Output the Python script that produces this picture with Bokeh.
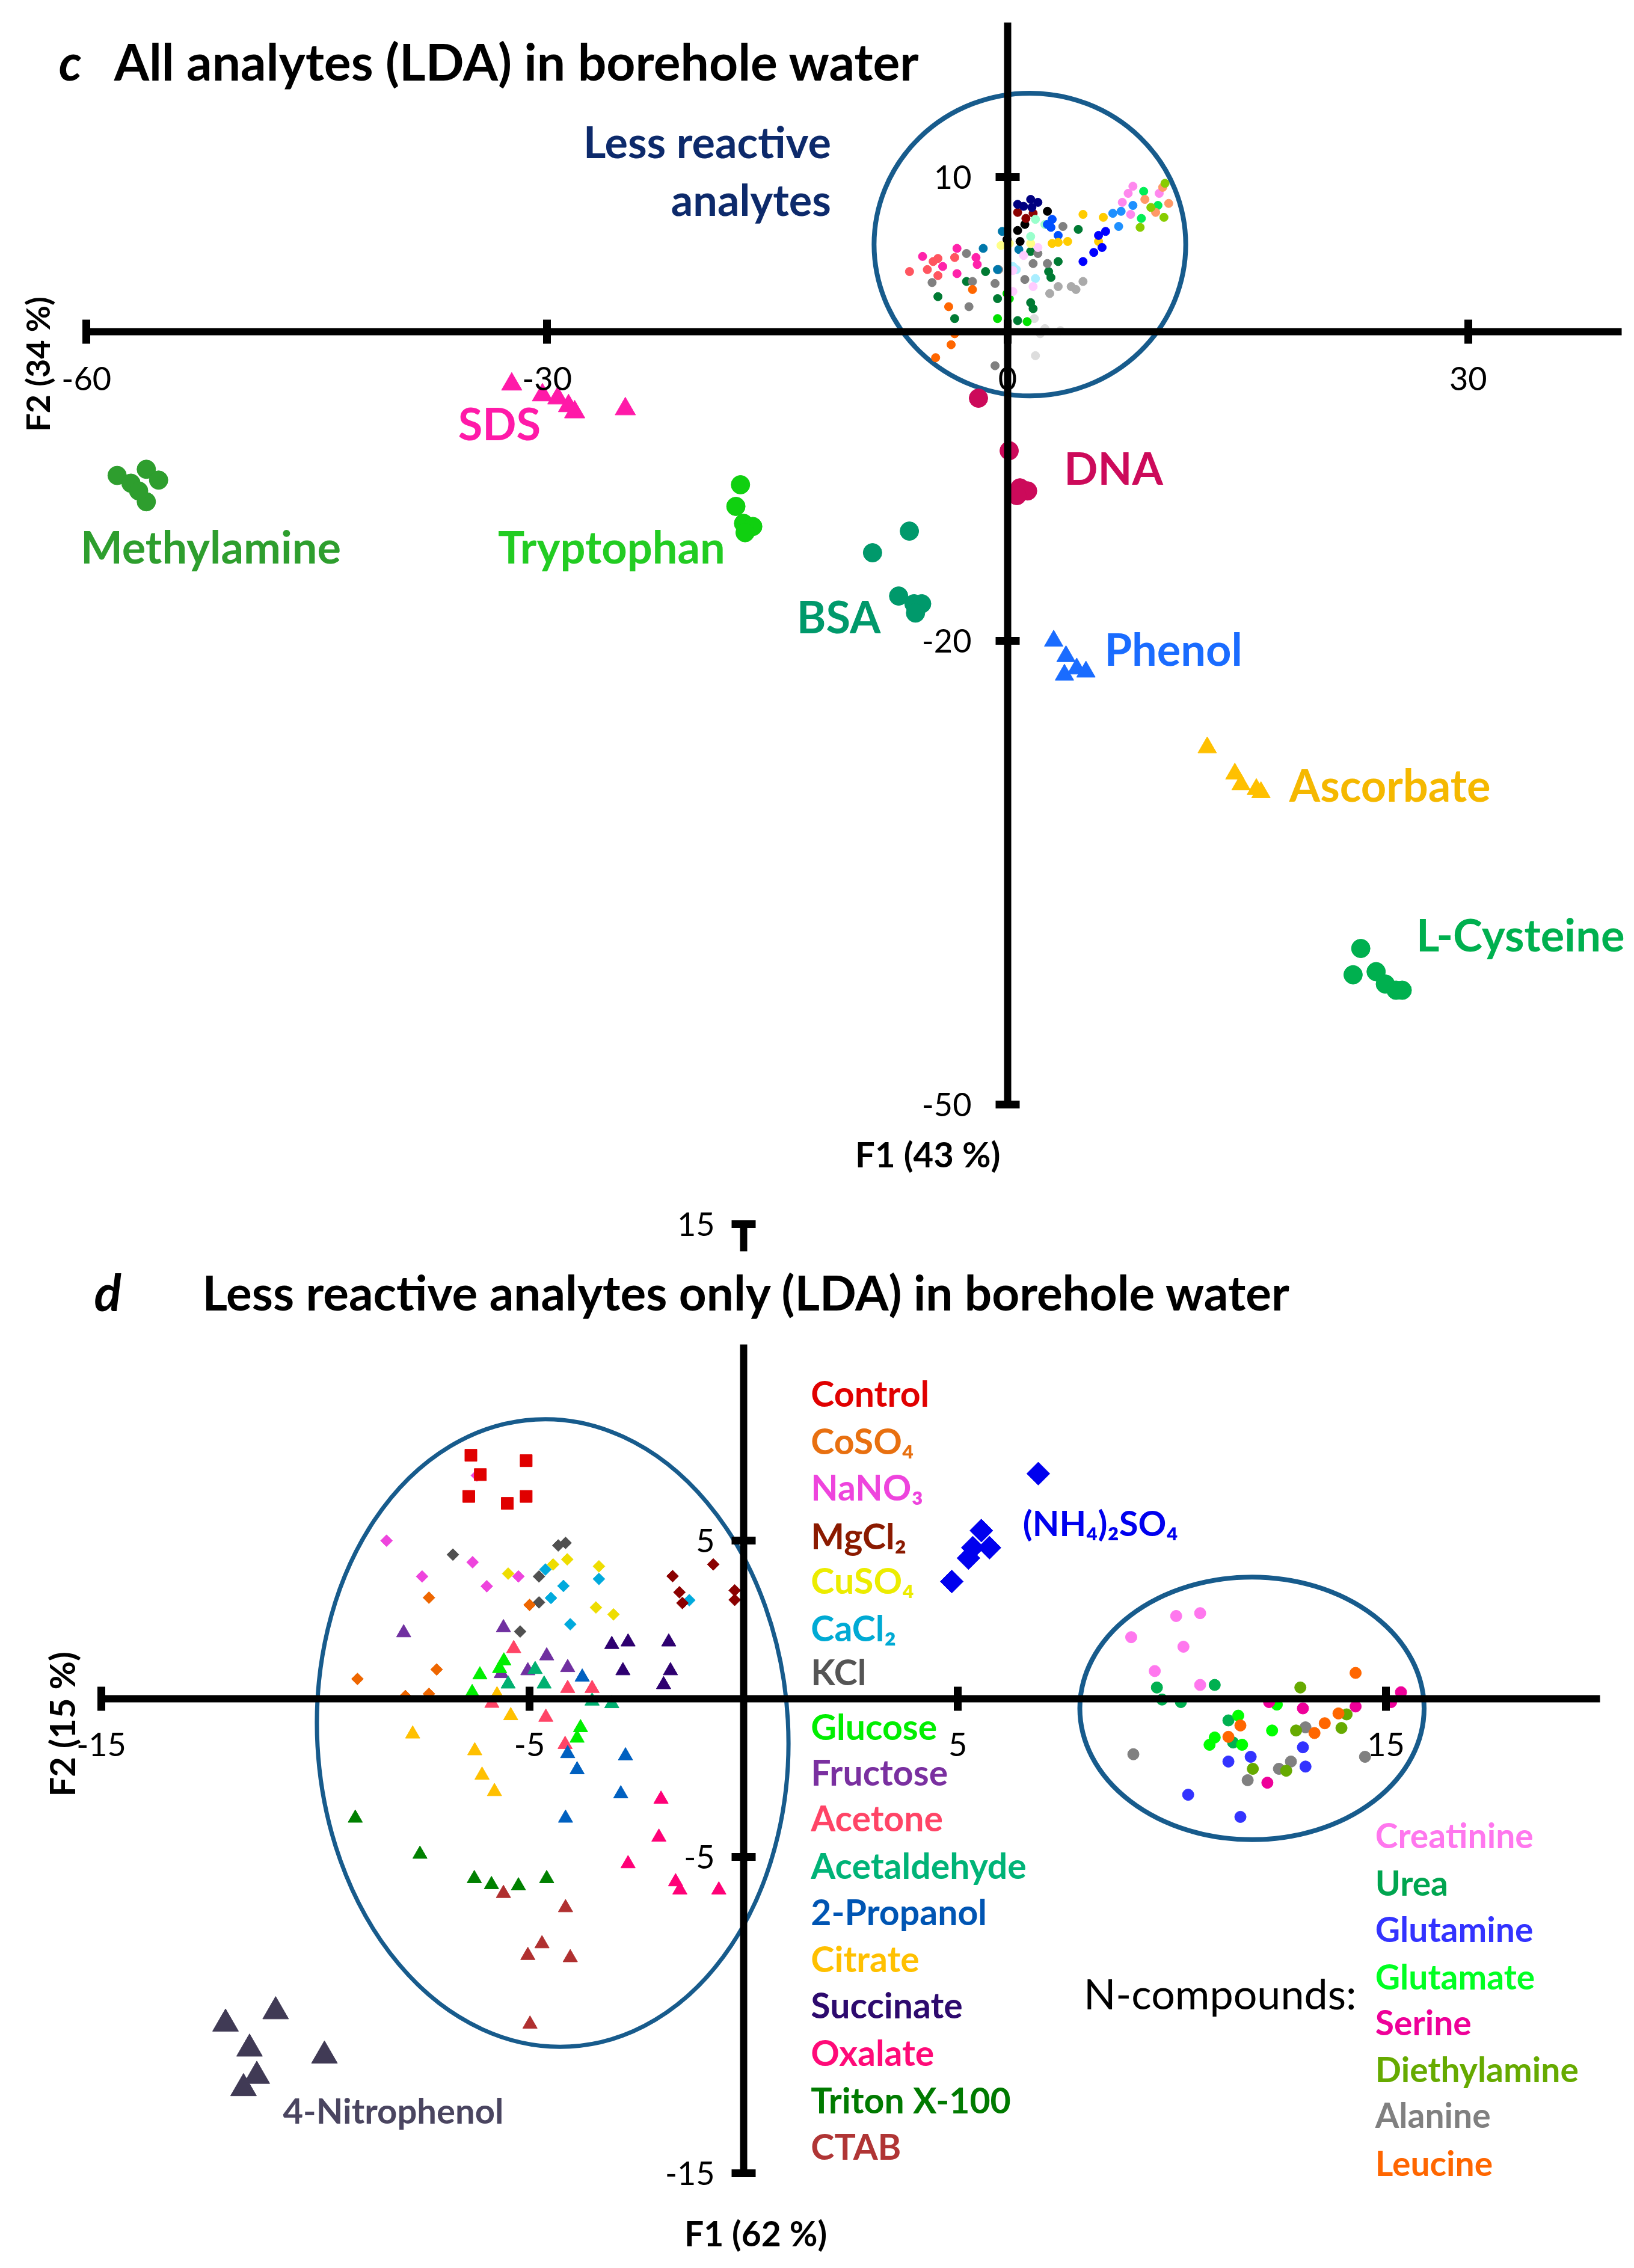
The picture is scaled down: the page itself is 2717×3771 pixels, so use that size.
import math
from bokeh.plotting import figure
from bokeh.layouts import column
from bokeh.models import Range1d, LinearAxis, FixedTicker, ColumnDataSource, CustomJSTickFormatter
from bokeh.embed import file_html
from bokeh.resources import INLINE
from bokeh.core.properties import value

FONT = "Lato"
ELLIPSE_COLOR = "#175b8c"

# ------------------------------------------------------------------
# Panel c : all analytes (LDA) -- reactive analytes (large markers)
# ------------------------------------------------------------------
SDS_X = [-32.3, -30.3, -29.3, -28.6, -28.2, -24.9]
SDS_Y = [-3.4, -4.1, -4.3, -4.8, -5.2, -5.0]
METHYLAMINE_X = [-58.0, -57.1, -56.1, -55.3, -56.1, -56.6]
METHYLAMINE_Y = [-9.3, -9.8, -8.9, -9.6, -11.0, -10.3]
TRYPTOPHAN_X = [-17.4, -17.7, -17.2, -16.6, -17.1]
TRYPTOPHAN_Y = [-9.9, -11.3, -12.4, -12.6, -13.0]
BSA_X = [-6.4, -8.8, -7.1, -6.1, -5.6, -6.0]
BSA_Y = [-12.9, -14.3, -17.1, -17.6, -17.6, -18.2]
DNA_X = [-1.9, 0.1, 0.8, 1.3, 0.6]
DNA_Y = [-4.3, -7.7, -10.1, -10.3, -10.6]
PHENOL_X = [3.0, 3.8, 3.7, 4.5, 5.1]
PHENOL_Y = [-20.0, -21.0, -22.2, -21.8, -22.0]
ASCORBATE_X = [13.0, 14.8, 15.2, 16.2, 16.5]
ASCORBATE_Y = [-26.9, -28.6, -29.3, -29.6, -29.8]
CYSTEINE_X = [23.0, 22.5, 24.0, 24.6, 25.3, 25.7]
CYSTEINE_Y = [-39.9, -41.6, -41.4, -42.2, -42.6, -42.6]

# Panel c : less reactive analytes (small dots inside the circle)
C_NAVY_X = [0.65, 1.50, 1.97, 1.58, 1.04]
C_NAVY_Y = [8.24, 8.56, 8.37, 8.04, 8.11]
C_DARKRED_X = [0.65, 1.66, 1.19]
C_DARKRED_Y = [7.72, 7.66, 7.33]
C_BLACK_X = [2.59, 1.12, 0.65, 0.81, -0.04]
C_BLACK_Y = [7.79, 6.94, 6.55, 5.84, 5.97]
C_AQUA_X = [1.81, 2.43, 1.50]
C_AQUA_Y = [7.27, 6.94, 6.16]
C_BLUE2_X = [2.90, 2.82, 3.29, 2.59]
C_BLUE2_Y = [7.27, 6.75, 6.23, 6.94]
C_GOLD_X = [4.91, 6.23, 2.90, 3.91, 5.92, 3.29]
C_GOLD_Y = [7.59, 7.40, 5.71, 5.84, 5.84, 5.78]
C_SKY_X = [6.85, 7.39, 7.23, 8.16]
C_SKY_Y = [7.66, 7.79, 6.81, 8.17]
C_BLUE_X = [6.38, 5.92, 6.15, 5.61, 4.91]
C_BLUE_Y = [6.49, 6.23, 5.45, 5.13, 4.54]
C_PINK_X = [8.16, 7.85, 7.47, 8.01, 9.87]
C_PINK_Y = [9.41, 8.95, 8.37, 7.59, 8.95]
C_SPRING_X = [8.86, 9.79, 8.71]
C_SPRING_Y = [9.08, 8.17, 7.33]
C_SALMON_X = [10.10, 8.94, 10.49, 9.64]
C_SALMON_Y = [9.34, 8.56, 8.30, 7.72]
C_OLIVE_X = [10.25, 9.33, 10.18, 8.63]
C_OLIVE_Y = [9.60, 8.04, 7.40, 6.75]
C_PALEYELLOW_X = [-0.43, 1.50, 0.11]
C_PALEYELLOW_Y = [5.58, 5.71, 5.71]
C_TEAL_X = [-0.35, -1.59, -0.66, 0.73]
C_TEAL_Y = [6.49, 5.39, 4.02, 5.32]
C_HOTPINK_X = [-3.30, -5.54, -2.06, -1.98, -3.30, -4.23]
C_HOTPINK_Y = [5.39, 4.87, 4.80, 4.35, 3.76, 4.22]
C_CORAL_X = [-6.39, -5.23, -4.85, -4.54, -4.54, -3.45]
C_CORAL_Y = [3.89, 4.02, 4.54, 4.74, 3.63, 4.80]
C_GRAY_X = [3.60, 1.97, 1.66, 2.59, 1.12, -0.82, -2.29, -4.92, -2.68, -0.59, -2.52, -0.82]
C_GRAY_Y = [6.81, 5.06, 4.41, 4.41, 3.38, 3.12, 3.25, 3.18, 5.06, 4.02, 1.62, -2.20]
C_LIGHTGRAY_X = [2.74, 3.29, 4.14, 4.45, 4.91]
C_LIGHTGRAY_Y = [2.47, 2.92, 2.92, 2.73, 3.25]
C_DARKGREEN_X = [4.60, 3.29, 2.67, 2.82, -1.44, -2.68, -4.54, -3.45, -0.66, 0.65, 1.50, 1.66, 1.50]
C_DARKGREEN_Y = [6.62, 4.54, 3.89, 3.51, 3.89, 3.25, 2.27, 0.85, 2.14, 0.72, 1.88, 1.49, 5.19]
C_LIGHTCYAN_X = [0.34, 1.81, 0.57]
C_LIGHTCYAN_Y = [4.22, 3.44, 4.02]
C_LIGHTPINK_X = [0.34, 1.66, 0.34, 1.97, 1.04]
C_LIGHTPINK_Y = [3.96, 2.92, 2.60, 5.45, 4.93]
C_ORANGE_X = [-2.29, -3.84, -3.45, -3.68, -4.69]
C_ORANGE_Y = [2.73, 1.62, -0.13, -0.84, -1.68]
C_GREEN_X = [-0.66, 1.27, -0.04, 0.11]
C_GREEN_Y = [0.85, 0.65, 2.47, 2.14]
C_PALEGRAY_X = [1.74, 2.43, 2.12, 3.44, 1.81]
C_PALEGRAY_Y = [0.85, 0.20, -0.13, 0.07, -1.55]

# ------------------------------------------------------------------
# Panel d : less reactive analytes only
# ------------------------------------------------------------------
CONTROL_X = [-6.37, -5.08, -6.15, -6.42, -5.52, -5.08]
CONTROL_Y = [7.70, 7.53, 7.09, 6.40, 6.18, 6.40]
NANO3_X = [-8.34, -7.51, -6.33, -6.00, -5.26, -6.23]
NANO3_Y = [5.00, 3.87, 4.32, 3.56, 3.87, 7.06]
KCL_X = [-6.79, -4.33, -4.16, -4.78, -4.78, -5.22]
KCL_Y = [4.56, 4.85, 4.93, 3.87, 3.05, 2.13]
CUSO4_X = [-5.50, -4.45, -4.12, -3.38, -3.45, -3.04]
CUSO4_Y = [3.96, 4.25, 4.41, 4.19, 2.89, 2.67]
CACL2_X = [-4.63, -4.21, -4.50, -3.38, -4.05, -1.27]
CACL2_Y = [4.09, 3.57, 3.19, 3.79, 2.36, 3.12]
COSO4_X = [-7.35, -5.00, -7.17, -9.02, -7.90, -7.35]
COSO4_Y = [3.20, 2.97, 0.93, 0.63, 0.09, 0.16]
MGCL2_X = [-1.66, -0.71, -1.50, -1.43, -0.21, -0.21]
MGCL2_Y = [3.88, 4.25, 3.37, 3.03, 3.43, 3.13]
FRUCTOSE_X = [-7.94, -5.61, -4.60, -5.04, -4.11, -5.66]
FRUCTOSE_Y = [2.09, 2.25, 1.36, 0.89, 0.99, 0.80]
SUCCINATE_X = [-3.08, -2.70, -1.75, -2.82, -1.71, -1.87]
SUCCINATE_Y = [1.72, 1.80, 1.80, 0.89, 0.89, 0.45]
GLUCOSE_X = [-5.60, -6.16, -6.34, -3.81, -3.89, -5.70]
GLUCOSE_Y = [1.20, 0.76, 0.20, -0.91, -1.24, 0.96]
ACETALDEHYDE_X = [-5.50, -4.87, -4.66, -3.54, -3.08]
ACETALDEHYDE_Y = [0.47, 0.93, 0.47, -0.07, -0.15]
ACETONE_X = [-5.37, -4.11, -3.54, -5.88, -4.62, -4.17]
ACETONE_Y = [1.59, 0.33, 0.33, -0.14, -0.58, -1.44]
CITRATE_X = [-5.76, -5.44, -7.73, -6.28, -6.11, -5.82]
CITRATE_Y = [0.13, -0.53, -1.11, -1.64, -2.41, -2.93]
PROPANOL_X = [-3.77, -4.11, -3.89, -2.76, -2.87, -4.16]
PROPANOL_Y = [0.69, -1.73, -2.24, -1.80, -3.00, -3.77]
OXALATE_X = [-1.93, -1.98, -2.70, -1.59, -1.49, -0.58]
OXALATE_Y = [-3.17, -4.37, -5.21, -5.78, -6.04, -6.04]
TRITON_X = [-9.07, -7.56, -6.29, -5.89, -5.26, -4.60]
TRITON_Y = [-3.77, -4.91, -5.68, -5.87, -5.91, -5.68]
CTAB_X = [-5.61, -4.16, -4.71, -5.04, -4.05, -4.99]
CTAB_Y = [-6.15, -6.60, -7.74, -8.11, -8.18, -10.28]
NITROPHENOL_X = [-12.10, -10.93, -11.54, -9.79, -11.37, -11.68]
NITROPHENOL_Y = [-10.27, -9.88, -11.06, -11.28, -11.92, -12.31]
NH4SO4_X = [4.86, 5.25, 5.35, 5.55, 5.74, 6.88]
NH4SO4_Y = [3.71, 4.45, 4.78, 5.32, 4.78, 7.12]
CREATININE_X = [10.10, 10.66, 9.05, 10.27, 9.60, 10.66]
CREATININE_Y = [2.62, 2.71, 1.95, 1.65, 0.88, 0.44]
UREA_X = [9.65, 9.77, 10.21, 11.00, 11.32, 11.43]
UREA_Y = [0.36, -0.02, -0.10, 0.44, -0.68, -1.38]
GLUTAMINE_X = [10.38, 11.60, 11.32, 11.84, 13.06, 13.12]
GLUTAMINE_Y = [-3.03, -3.73, -1.98, -1.83, -1.53, -2.14]
GLUTAMATE_X = [11.55, 11.00, 10.88, 11.64, 12.34, 12.45]
GLUTAMATE_Y = [-0.53, -1.22, -1.45, -1.45, -1.00, -0.18]
SERINE_X = [12.27, 13.06, 14.29, 15.35, 15.12, 12.23]
SERINE_Y = [-0.10, -0.30, -0.24, 0.21, -0.10, -2.65]
DIETHYLAMINE_X = [13.00, 14.08, 13.96, 12.90, 11.89, 12.67]
DIETHYLAMINE_Y = [0.36, -0.49, -0.92, -1.00, -2.21, -2.27]
ALANINE_X = [9.10, 11.77, 12.50, 12.78, 13.12, 14.51]
ALANINE_Y = [-1.75, -2.57, -2.21, -1.98, -0.90, -1.83]
LEUCINE_X = [14.29, 13.89, 13.57, 13.33, 11.60, 11.32]
LEUCINE_Y = [0.82, -0.46, -0.77, -1.08, -0.84, -1.20]

LEGEND_LEFT = ["Control", "CoSO\u2084", "NaNO\u2083", "MgCl\u2082", "CuSO\u2084", "CaCl\u2082", "KCl",
               "Glucose", "Fructose", "Acetone", "Acetaldehyde", "2-Propanol", "Citrate",
               "Succinate", "Oxalate", "Triton X-100", "CTAB"]
LEGEND_LEFT_COLORS = ["#e00000", "#e87010", "#ee44dd", "#8b1a00", "#ecec00", "#00aad4", "#555555",
                      "#00ee00", "#7a30a0", "#ff4466", "#00b377", "#0055b3", "#ffc000",
                      "#2d0a6e", "#ff0a78", "#007a00", "#b03535"]
LEGEND_RIGHT = ["Creatinine", "Urea", "Glutamine", "Glutamate", "Serine", "Diethylamine", "Alanine", "Leucine"]
LEGEND_RIGHT_COLORS = ["#ff77ee", "#00a550", "#3333ff", "#00ff22", "#ee0099", "#66aa00", "#808080", "#ff6600"]


def make_axis(loc, bounds, ticks, standoff, size="54px"):
    return LinearAxis(fixed_location=loc, bounds=bounds, ticker=FixedTicker(ticks=ticks),
                      formatter=CustomJSTickFormatter(code="return tick.toString();"),
                      axis_line_width=12, axis_line_color="black",
                      major_tick_line_width=13, major_tick_line_color="black",
                      major_tick_in=20, major_tick_out=20,
                      minor_tick_line_color=None,
                      major_label_text_font=FONT, major_label_text_font_size=size,
                      major_label_text_color="black", major_label_standoff=standoff)


def add_text(p, x, y, text, color, size, style="bold", align="left", angle=0.0):
    p.text(x=[x], y=[y], text=[text], text_color=color, text_font=value(FONT),
           text_font_size=f"{size}px", text_font_style=style, text_align=align,
           text_baseline="middle", angle=angle)


W = 2700
H1 = 1960
H2 = 1790

# ---------------------------- panel c ----------------------------
p1 = figure(width=W, height=H1, x_range=Range1d(-65.61, 40.15), y_range=Range1d(-54.82, 21.44),
            output_backend="svg", toolbar_location=None, x_axis_type=None, y_axis_type=None,
            min_border=0, outline_line_color=None)
p1.add_layout(make_axis(0, (-60, 40), [-60, -30, 0, 30], 38), "below")
p1.add_layout(make_axis(0, (-50, 20), [-50, -20, 10], 40), "left")

p1.ellipse(x=[1.45], y=[5.64], width=[20.3], height=[19.6], fill_color=None,
           line_color=ELLIPSE_COLOR, line_width=8)

small_top = [
    (C_DARKGREEN_X, C_DARKGREEN_Y, "#007a33"), (C_GRAY_X, C_GRAY_Y, "#808080"),
    (C_LIGHTGRAY_X, C_LIGHTGRAY_Y, "#aaaaaa"), (C_PALEGRAY_X, C_PALEGRAY_Y, "#dddddd"),
    (C_ORANGE_X, C_ORANGE_Y, "#ff6600"), (C_CORAL_X, C_CORAL_Y, "#ff5560"),
    (C_HOTPINK_X, C_HOTPINK_Y, "#ff22aa"), (C_TEAL_X, C_TEAL_Y, "#0077aa"),
    (C_GREEN_X, C_GREEN_Y, "#00e000"), (C_LIGHTCYAN_X, C_LIGHTCYAN_Y, "#aaeeff"),
    (C_LIGHTPINK_X, C_LIGHTPINK_Y, "#ffccff"), (C_PALEYELLOW_X, C_PALEYELLOW_Y, "#ffff88"),
    (C_BLACK_X, C_BLACK_Y, "#000000"), (C_DARKRED_X, C_DARKRED_Y, "#8b0000"),
    (C_NAVY_X, C_NAVY_Y, "#000080"), (C_AQUA_X, C_AQUA_Y, "#99ffcc"),
    (C_BLUE2_X, C_BLUE2_Y, "#0050ff"), (C_GOLD_X, C_GOLD_Y, "#ffcc00"),
    (C_BLUE_X, C_BLUE_Y, "#0000ff"), (C_SKY_X, C_SKY_Y, "#1e90ff"),
    (C_PINK_X, C_PINK_Y, "#ff88ee"), (C_SPRING_X, C_SPRING_Y, "#00ee55"),
    (C_SALMON_X, C_SALMON_Y, "#ff9966"), (C_OLIVE_X, C_OLIVE_Y, "#88cc00"),
]
for xs, ys, col in small_top:
    p1.scatter(xs, ys, marker="circle", size=14, color=col)

big_top = [
    (SDS_X, SDS_Y, "#ff1aa8", "triangle", 34),
    (METHYLAMINE_X, METHYLAMINE_Y, "#2e9e2e", "circle", 31),
    (TRYPTOPHAN_X, TRYPTOPHAN_Y, "#10d010", "circle", 31),
    (BSA_X, BSA_Y, "#00996b", "circle", 31),
    (DNA_X, DNA_Y, "#cc0a5a", "circle", 31),
    (PHENOL_X, PHENOL_Y, "#1a6cff", "triangle", 31),
    (ASCORBATE_X, ASCORBATE_Y, "#ffc000", "triangle", 31),
    (CYSTEINE_X, CYSTEINE_Y, "#00b04f", "circle", 31),
]
for xs, ys, col, mk, sz in big_top:
    p1.scatter(xs, ys, marker=mk, size=sz, color=col)

add_text(p1, -61.8, 17.5, "c", "black", 84, style="bold italic")
add_text(p1, -58.2, 17.5, "All analytes (LDA) in borehole water", "black", 84)
add_text(p1, -11.5, 12.3, "Less reactive", "#0d2a6b", 72, align="right")
add_text(p1, -11.5, 8.6, "analytes", "#0d2a6b", 72, align="right")
add_text(p1, -33.1, -5.9, "SDS", "#ff1aa8", 74, align="center")
add_text(p1, -51.9, -13.9, "Methylamine", "#2e9e2e", 74, align="center")
add_text(p1, -25.8, -13.9, "Tryptophan", "#22cc22", 74, align="center")
add_text(p1, 6.9, -8.8, "DNA", "#cc0a5a", 74, align="center")
add_text(p1, -11.0, -18.4, "BSA", "#00996b", 74, align="center")
add_text(p1, 10.8, -20.5, "Phenol", "#1a6cff", 74, align="center")
add_text(p1, 24.9, -29.3, "Ascorbate", "#f5b800", 74, align="center")
add_text(p1, 33.4, -39.0, "L-Cysteine", "#00b04f", 74, align="center")
add_text(p1, -5.2, -53.2, "F1 (43 %)", "black", 58, align="center")
add_text(p1, -63.2, -2.1, "F2 (34 %)", "black", 54, align="center", angle=math.pi / 2)

# ---------------------------- panel d ----------------------------
p2 = figure(width=W, height=H2, x_range=Range1d(-17.36, 20.56), y_range=Range1d(-17.60, 16.43),
            output_backend="svg", toolbar_location=None, x_axis_type=None, y_axis_type=None,
            min_border=0, outline_line_color=None)
p2.add_layout(make_axis(0, (-15, 20), [-15, -5, 5, 15], 36), "below")
p2.add_layout(make_axis(0, (-15, 11.2), [-15, -5, 5], 28), "left")
p2.add_layout(make_axis(0, (14.15, 15), [15], 28), "left")

p2.ellipse(x=[-4.46], y=[-1.08], width=[11.0], height=[19.85], angle=[0.055], fill_color=None,
           line_color=ELLIPSE_COLOR, line_width=7)
p2.ellipse(x=[11.87], y=[-0.30], width=[8.04], height=[8.31], fill_color=None,
           line_color=ELLIPSE_COLOR, line_width=8)

diamonds = [
    (NANO3_X, NANO3_Y, "#ee44dd"), (KCL_X, KCL_Y, "#505050"), (CUSO4_X, CUSO4_Y, "#eedd00"),
    (CACL2_X, CACL2_Y, "#00aadd"), (COSO4_X, COSO4_Y, "#ee6600"), (MGCL2_X, MGCL2_Y, "#8b0000"),
]
for xs, ys, col in diamonds:
    p2.scatter(xs, ys, marker="square", size=14, angle=math.pi / 4, color=col)
p2.scatter(CONTROL_X, CONTROL_Y, marker="square", size=20, color="#e00000")

triangles = [
    (FRUCTOSE_X, FRUCTOSE_Y, "#7030a0"), (SUCCINATE_X, SUCCINATE_Y, "#2e0070"),
    (GLUCOSE_X, GLUCOSE_Y, "#00ee00"), (ACETALDEHYDE_X, ACETALDEHYDE_Y, "#00b070"),
    (ACETONE_X, ACETONE_Y, "#ff4466"), (CITRATE_X, CITRATE_Y, "#ffc000"),
    (PROPANOL_X, PROPANOL_Y, "#0060c0"), (OXALATE_X, OXALATE_Y, "#ff0077"),
    (TRITON_X, TRITON_Y, "#008000"), (CTAB_X, CTAB_Y, "#b03030"),
]
for xs, ys, col in triangles:
    p2.scatter(xs, ys, marker="triangle", size=24, color=col)
p2.scatter(NITROPHENOL_X, NITROPHENOL_Y, marker="triangle", size=43, color="#403a55")
p2.scatter(NH4SO4_X, NH4SO4_Y, marker="square", size=27, angle=math.pi / 4, color="#0000ee")

ncomp = [
    (CREATININE_X, CREATININE_Y, "#ff77ee"), (UREA_X, UREA_Y, "#00b050"),
    (GLUTAMINE_X, GLUTAMINE_Y, "#3333ff"), (GLUTAMATE_X, GLUTAMATE_Y, "#00ff00"),
    (ALANINE_X, ALANINE_Y, "#808080"), (DIETHYLAMINE_X, DIETHYLAMINE_Y, "#66aa00"),
    (LEUCINE_X, LEUCINE_Y, "#ff6600"), (SERINE_X, SERINE_Y, "#ee0099"),
]
for xs, ys, col in ncomp:
    p2.scatter(xs, ys, marker="circle", size=19, color=col)

left_y = [9.66, 8.16, 6.69, 5.15, 3.75, 2.24, 0.86, -0.87, -2.32, -3.76, -5.27, -6.73,
          -8.21, -9.68, -11.18, -12.68, -14.14]
src_l = ColumnDataSource(dict(x=[1.57] * len(LEGEND_LEFT), y=left_y, t=LEGEND_LEFT, c=LEGEND_LEFT_COLORS))
p2.text(x="x", y="y", text="t", text_color="c", source=src_l, text_font=value(FONT),
        text_font_size="59px", text_font_style="bold", text_baseline="middle")
right_y = [-4.30, -5.80, -7.26, -8.76, -10.21, -11.69, -13.14, -14.66]
src_r = ColumnDataSource(dict(x=[14.75] * len(LEGEND_RIGHT), y=right_y, t=LEGEND_RIGHT, c=LEGEND_RIGHT_COLORS))
p2.text(x="x", y="y", text="t", text_color="c", source=src_r, text_font=value(FONT),
        text_font_size="57px", text_font_style="bold", text_baseline="middle")

add_text(p2, 7.94, -9.30, "N-compounds:", "black", 70, style="normal")
add_text(p2, 6.52, 5.57, "(NH\u2084)\u2082SO\u2084", "#0000ee", 58)
add_text(p2, -10.76, -13.0, "4-Nitrophenol", "#4a4560", 58)
add_text(p2, -15.17, 12.87, "d", "black", 84, style="bold italic")
add_text(p2, -12.64, 12.87, "Less reactive analytes only (LDA) in borehole water", "black", 80)
add_text(p2, 0.28, -16.88, "F1 (62 %)", "black", 57, align="center")
add_text(p2, -15.93, -0.80, "F2 (15 %)", "black", 58, align="center", angle=math.pi / 2)

layout = column(p1, p2)
open("out.html", "w").write(file_html(layout, INLINE))
